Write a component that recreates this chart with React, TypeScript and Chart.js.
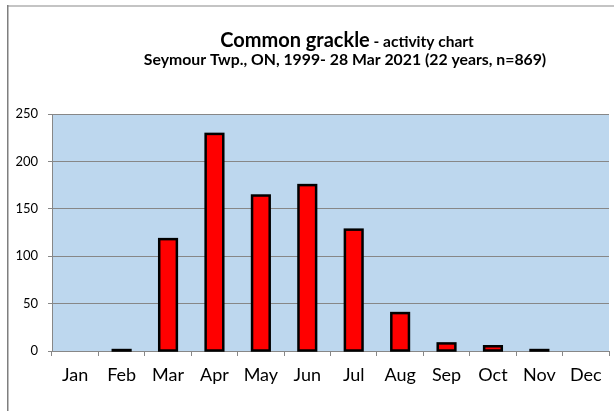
import React, { useEffect, useRef } from "react";
import { Chart, registerables } from "chart.js";

Chart.register(...registerables);

const months = ["Jan", "Feb", "Mar", "Apr", "May", "Jun", "Jul", "Aug", "Sep", "Oct", "Nov", "Dec"];
const counts = [0, 1, 118, 229, 164, 175, 128, 40, 8, 5, 1, 0];
const titleMain = "Common grackle";
const titleSuffix = " - activity chart";
const subtitle = "Seymour Twp., ON, 1999- 28 Mar 2021 (22 years, n=869)";
const yMax = 250;
const yStep = 50;

const FONT = "Lato, 'Open Sans', sans-serif";

const decorPlugin = {
  id: "decor",
  beforeDraw(chart: any) {
    const { ctx, chartArea } = chart;
    ctx.save();
    ctx.fillStyle = "#ffffff";
    ctx.fillRect(0, 0, chart.width, chart.height);
    ctx.strokeStyle = "#c4c4c4";
    ctx.lineWidth = 2;
    ctx.beginPath();
    ctx.moveTo(7, 6);
    ctx.lineTo(chart.width, 6);
    ctx.stroke();
    ctx.strokeStyle = "#7f7f7f";
    ctx.lineWidth = 1.5;
    ctx.beginPath();
    ctx.moveTo(7.75, 5);
    ctx.lineTo(7.75, chart.height);
    ctx.stroke();
    ctx.fillStyle = "#bdd7ee";
    ctx.fillRect(chartArea.left, chartArea.top, chartArea.right - chartArea.left, chartArea.bottom - chartArea.top);
    ctx.restore();
  },
  afterDatasetsDraw(chart: any) {
    const { ctx } = chart;
    const meta = chart.getDatasetMeta(0);
    ctx.save();
    ctx.strokeStyle = "#000000";
    ctx.lineWidth = 2.5;
    ctx.lineJoin = "miter";
    meta.data.forEach((bar: any, i: number) => {
      if (!counts[i]) return;
      const { x, y, base, width } = bar.getProps(["x", "y", "base", "width"], true);
      ctx.strokeRect(x - width / 2, y, width, base - y);
    });
    ctx.restore();
  },
  afterDraw(chart: any) {
    const { ctx } = chart;
    ctx.save();
    ctx.fillStyle = "#000000";
    ctx.textBaseline = "alphabetic";
    const cx = 347;
    const f1 = `bold 20px ${FONT}`;
    const f2 = `bold 15.5px ${FONT}`;
    ctx.font = f1;
    const w1 = ctx.measureText(titleMain).width;
    ctx.font = f2;
    const w2 = ctx.measureText(titleSuffix).width;
    const x0 = cx - (w1 + w2) / 2;
    ctx.textAlign = "left";
    ctx.font = f1;
    ctx.fillText(titleMain, x0, 47);
    ctx.font = f2;
    ctx.fillText(titleSuffix, x0 + w1, 47);
    ctx.font = `bold 15.8px ${FONT}`;
    ctx.textAlign = "center";
    ctx.fillText(subtitle, 345, 65);
    ctx.restore();
  },
};

export default function App() {
  const ref = useRef<HTMLCanvasElement | null>(null);
  useEffect(() => {
    if (!ref.current) return;
    const chart = new Chart(ref.current, {
      type: "bar",
      data: {
        labels: months,
        datasets: [
          {
            data: counts,
            backgroundColor: "#ff0000",
            borderWidth: 0,
            barPercentage: 0.38,
            categoryPercentage: 1,
          },
        ],
      },
      options: {
        animation: false,
        responsive: false,
        layout: { padding: { top: 114, right: 5, left: 0, bottom: 0 } },
        plugins: {
          legend: { display: false },
          title: { display: false },
          tooltip: { enabled: false },
        },
        scales: {
          x: {
            grid: {
              offset: true,
              drawOnChartArea: false,
              drawTicks: true,
              tickLength: 5,
              color: "#878787",
            },
            border: { color: "#878787", width: 1 },
            ticks: {
              color: "#000000",
              font: { family: FONT, size: 18 },
              padding: 8,
            },
            afterFit(scale: any) {
              scale.height = 60;
            },
          },
          y: {
            min: 0,
            max: yMax,
            ticks: {
              stepSize: yStep,
              color: "#000000",
              font: { family: FONT, size: 13 },
              padding: 10,
            },
            grid: {
              color: "#878787",
              tickLength: 4,
              lineWidth: 1,
            },
            border: { color: "#878787", width: 1 },
            afterFit(scale: any) {
              scale.width = 52;
            },
          },
        },
      },
      plugins: [decorPlugin],
    });
    return () => chart.destroy();
  }, []);
  return (
    <div style={{ position: "absolute", left: 0, top: 0, width: 614, height: 411 }}>
      <canvas ref={ref} width={614} height={411} style={{ width: 614, height: 411, display: "block" }} />
    </div>
  );
}
